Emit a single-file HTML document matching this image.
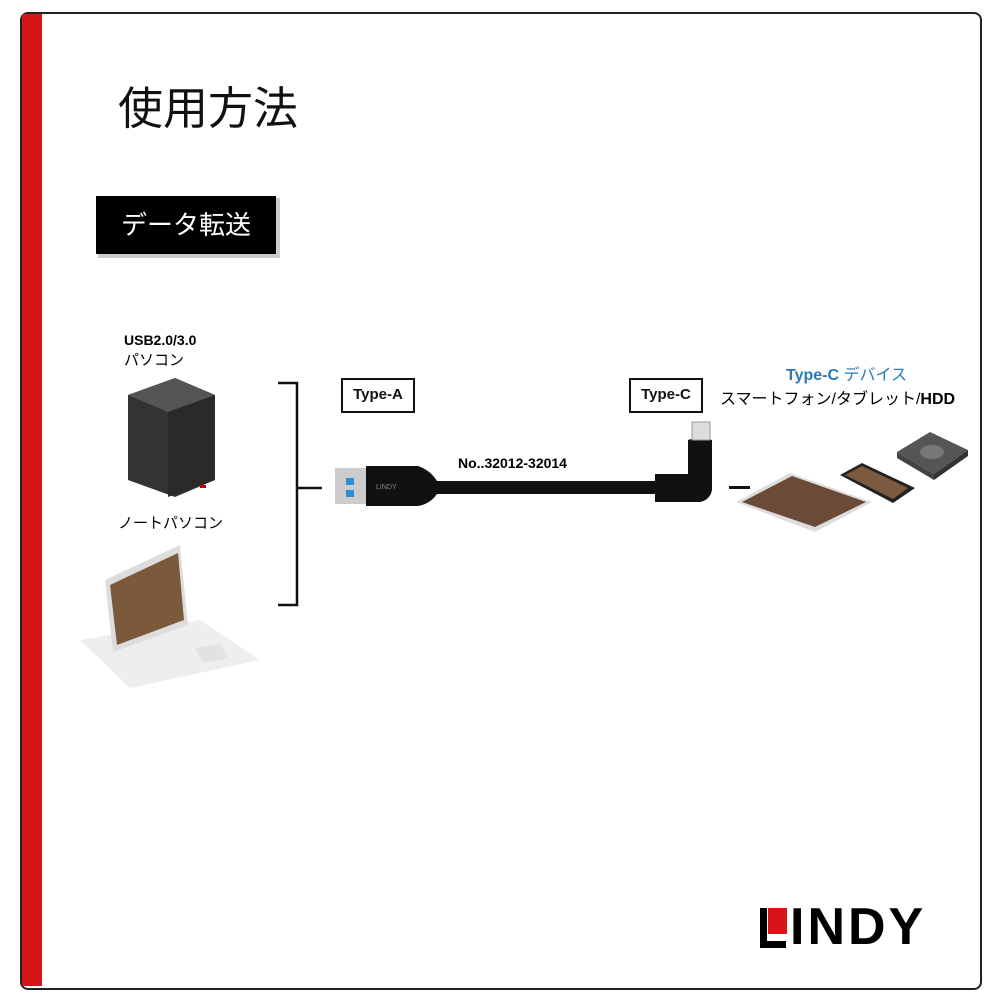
<!DOCTYPE html><html><head><meta charset="utf-8"><style>
body{margin:0;width:1000px;height:1000px;background:#fff;position:relative;overflow:hidden;font-family:"Liberation Sans","Noto Sans CJK JP",sans-serif}
.a{position:absolute}
.box{position:absolute;border:2px solid #111;font-weight:bold;font-size:15px;text-align:center;line-height:30px;color:#111}
</style></head><body>
<div class="a" style="left:20px;top:12px;width:958px;height:974px;border:2px solid #222;border-radius:8px"></div>
<div class="a" style="left:22px;top:14px;width:20px;height:972px;background:#d7141a"></div>
<div class="a" style="left:118px;top:72px;font-size:45px;color:#111">使用方法</div>
<div class="a" style="left:98px;top:198px;width:182px;height:60px;background:#ccc"></div>
<div class="a" style="left:96px;top:196px;width:180px;height:58px;background:#000;color:#fff;font-size:26px;line-height:58px;text-align:center">データ転送</div>
<div class="a" style="left:124px;top:332px;font-size:14px;font-weight:bold">USB2.0/3.0</div>
<div class="a" style="left:124px;top:349px;font-size:15px">パソコン</div>
<div class="a" style="left:118px;top:512px;font-size:15px">ノートパソコン</div>
<div class="a" style="left:786px;top:361px;font-size:16px;color:#2a7ab8"><b>Type-C</b> デバイス</div>
<div class="a" style="left:720px;top:385px;font-size:16px">スマートフォン/タブレット/<b>HDD</b></div>
<div class="box" style="left:341px;top:378px;width:70px;height:31px">Type-A</div>
<div class="box" style="left:629px;top:378px;width:70px;height:31px">Type-C</div>
<div class="a" style="left:458px;top:455px;font-size:14px;font-weight:bold">No..32012-32014</div>
<svg class="a" style="left:0;top:0" width="1000" height="1000">
<path d="M278 383H297V605H278M297 488H322" fill="none" stroke="#111" stroke-width="2.5"/>
<polygon points="128,395 175,378 215,395 215,480 175,497 128,480" fill="#333"/>
<polygon points="128,395 175,378 215,395 168,412" fill="#555"/>
<polygon points="168,412 215,395 215,480 168,497" fill="#2a2a2a"/>
<rect x="200" y="485" width="6" height="3" fill="#c00"/>
<polygon points="80,640 200,620 260,660 130,688" fill="#eee"/>
<polygon points="105,580 180,545 188,625 113,652" fill="#ddd"/>
<polygon points="110,585 178,553 184,620 117,645" fill="#7a5a3a"/>
<polygon points="195,648 220,644 228,658 203,663" fill="#e2e2e2"/>
<rect x="335" y="468" width="33" height="36" fill="#ccc"/>
<rect x="346" y="478" width="8" height="7" fill="#2a8fd8"/><rect x="346" y="490" width="8" height="7" fill="#2a8fd8"/>
<path d="M366 466H418Q430 470 437 481V494Q430 504 418 506H366Z" fill="#111"/>
<rect x="435" y="481" width="225" height="13" fill="#111"/>
<path d="M655 474H688V440Q700 436 712 440V490Q710 500 700 502H655Z" fill="#111"/>
<rect x="692" y="422" width="18" height="18" fill="#ddd" stroke="#999"/>
<text x="376" y="489" font-size="7" fill="#888" font-family="Liberation Sans">LINDY</text>
<rect x="729" y="486" width="21" height="3" fill="#111"/>
<polygon points="736,502 790,473 872,502 815,532" fill="#ddd"/>
<polygon points="742,502 792,476 866,502 815,527" fill="#6b4a38"/>
<polygon points="840,475 862,463 915,488 893,503" fill="#222"/>
<polygon points="845,475 862,466 908,488 893,499" fill="#7b5a40"/>
<polygon points="897,452 930,432 968,450 934,474" fill="#555"/>
<polygon points="897,452 934,474 934,480 897,458" fill="#444"/>
<polygon points="934,474 968,450 968,456 934,480" fill="#333"/>
<ellipse cx="932" cy="452" rx="12" ry="7" fill="#777"/>
</svg>
<div class="a" style="left:760px;top:908px;width:26px;height:40px;border-left:7px solid #000;border-bottom:7px solid #000;box-sizing:border-box"></div>
<div class="a" style="left:768px;top:908px;width:19px;height:26px;background:#d7141a"></div>
<div class="a" style="left:790px;top:897px;font-size:52px;font-weight:bold;letter-spacing:3px">INDY</div>
</body></html>
